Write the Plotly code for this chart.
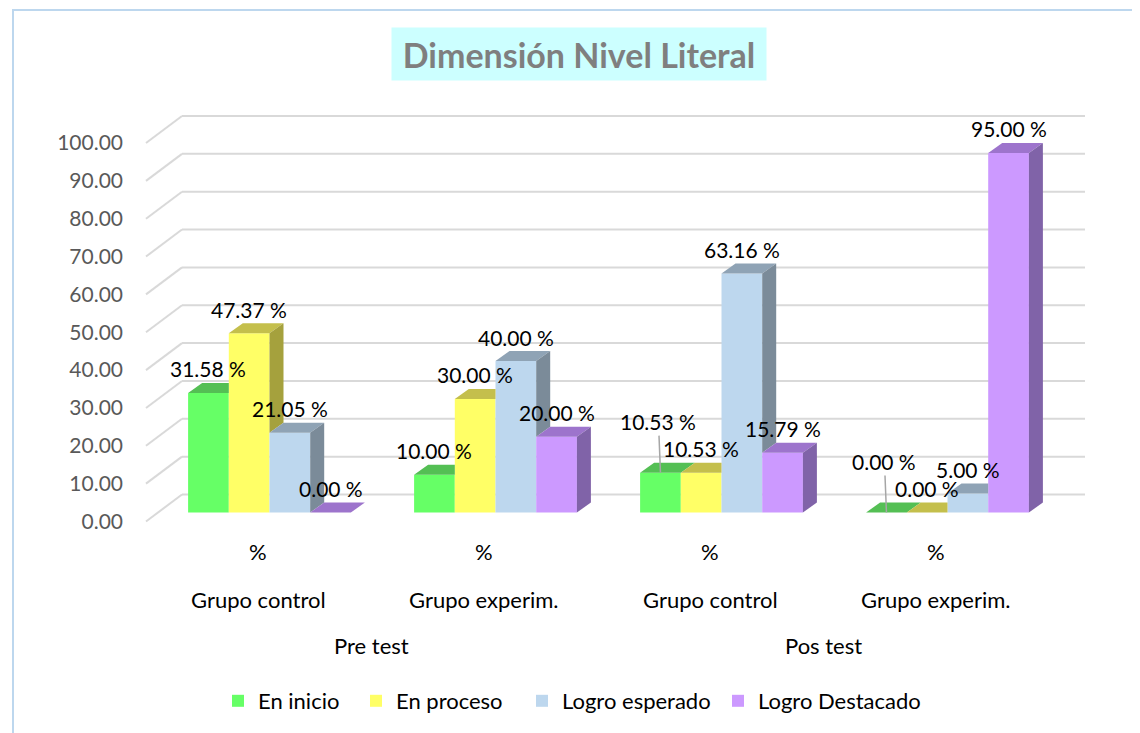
import plotly.graph_objects as go

# ---------------- data ----------------
phases = ["Pre test", "Pos test"]
groups = ["Grupo control", "Grupo experim.", "Grupo control", "Grupo experim."]
unit_labels = ["%", "%", "%", "%"]
series_names = ["En inicio", "En proceso", "Logro esperado", "Logro Destacado"]
en_inicio = [31.58, 10.00, 10.53, 0.00]
en_proceso = [47.37, 30.00, 10.53, 0.00]
logro_esperado = [21.05, 40.00, 63.16, 5.00]
logro_destacado = [0.00, 20.00, 15.79, 95.00]
y_tick_values = [0, 10, 20, 30, 40, 50, 60, 70, 80, 90, 100]
y_tick_labels = ["0.00", "10.00", "20.00", "30.00", "40.00", "50.00",
                 "60.00", "70.00", "80.00", "90.00", "100.00"]
title_text = "Dimensión Nivel Literal"

series_values = [en_inicio, en_proceso, logro_esperado, logro_destacado]

# ---------------- styles ----------------
front_colors = ["#66FF66", "#FFFF66", "#BDD7EE", "#CC99FF"]
top_colors = ["#54BF54", "#C4BF4C", "#8FA3B5", "#9D74CC"]
side_colors = ["#3F9A3F", "#A5A13D", "#7B8B99", "#8063A8"]
legend_widths = [93, 121, 151, 162]
FONT = "Lato"

OFF = 8                                  # page body margin
W, H = 1132, 725
L, R, T, B = 140 - OFF, 1100 - OFF, 100 - OFF, 540 - OFF   # plot area (figure px)
CAT0_PX = 258 - OFF
PX_PER_CAT = 226
ZERO_PX = 521.5 - OFF
PX_PER_VAL = 3.785

def paper_x(px):
    return (px - OFF - L) / (R - L)

def paper_y(py):
    return (B - (py - OFF)) / (B - T)

x_range = [(L - CAT0_PX) / PX_PER_CAT, (R - CAT0_PX) / PX_PER_CAT]
y_range = [(ZERO_PX - B) / PX_PER_VAL, (ZERO_PX - T) / PX_PER_VAL]

bar_w = 40.7 / PX_PER_CAT
group_shift = 11.5 / PX_PER_CAT
base = 9.0 / PX_PER_VAL
ddx = 14.0 / PX_PER_CAT
ddy = 10.0 / PX_PER_VAL
wall_dx = 36.0 / PX_PER_CAT
wall_dy = 27.0 / PX_PER_VAL
wall_left = (146 - OFF - CAT0_PX) / PX_PER_CAT
wall_right = (1085 - OFF - CAT0_PX) / PX_PER_CAT

n_series = len(series_values)
n_groups = len(groups)

def bar_center(i, j):
    return i + group_shift + (j - (n_series - 1) / 2) * bar_w

fig = go.Figure()

# front faces
for j, (name, vals) in enumerate(zip(series_names, series_values)):
    fig.add_trace(go.Bar(
        x=[bar_center(i, j) for i in range(n_groups)],
        y=vals,
        base=[base] * n_groups,
        width=[bar_w] * n_groups,
        name=name,
        legendwidth=legend_widths[j],
        marker=dict(color=front_colors[j], line=dict(width=0)),
        hoverinfo="skip",
    ))

# top and side faces
for i in range(n_groups):
    for j in range(n_series):
        v = series_values[j][i]
        xl = bar_center(i, j) - bar_w / 2
        xr = xl + bar_w
        vn = series_values[j + 1][i] if j < n_series - 1 else None
        if vn is not None and vn > v:
            tx = [xl, xr, xr, xl + ddx, xl]
        else:
            tx = [xl, xr, xr + ddx, xl + ddx, xl]
        ty = [base + v, base + v, base + v + ddy, base + v + ddy, base + v]
        fig.add_trace(go.Scatter(x=tx, y=ty, mode="lines", fill="toself",
                                 fillcolor=top_colors[j], line=dict(width=0),
                                 showlegend=False, hoverinfo="skip"))
        low = 0 if vn is None else vn
        if v > low:
            sx = [xr, xr + ddx, xr + ddx, xr, xr]
            sy = [base + low, base + low + ddy, base + v + ddy, base + v, base + low]
            fig.add_trace(go.Scatter(x=sx, y=sy, mode="lines", fill="toself",
                                     fillcolor=side_colors[j], line=dict(width=0),
                                     showlegend=False, hoverinfo="skip"))

# back wall gridlines
shapes = []
for v in y_tick_values:
    shapes.append(dict(type="line", xref="x", yref="y", layer="below",
                       x0=wall_left, y0=v, x1=wall_left + wall_dx, y1=v + wall_dy,
                       line=dict(color="#D9D9D9", width=2)))
    shapes.append(dict(type="line", xref="x", yref="y", layer="below",
                       x0=wall_left + wall_dx, y0=v + wall_dy, x1=wall_right, y1=v + wall_dy,
                       line=dict(color="#D9D9D9", width=2)))
# outer chart border
shapes.append(dict(type="rect", xref="paper", yref="paper", layer="below",
                   x0=paper_x(13), x1=paper_x(1200), y0=paper_y(780), y1=paper_y(10),
                   line=dict(color="#BDD7EE", width=2), fillcolor="rgba(0,0,0,0)"))

annotations = []
LABEL_FONT = dict(family=FONT, size=21, color="#000000")
leader = {(0, 2), (0, 3)}   # (series, group) labels pulled up with a leader line
for j in range(n_series):
    for i in range(n_groups):
        v = series_values[j][i]
        txt = f"{v:.2f} %"
        if (j, i) in leader:
            annotations.append(dict(x=bar_center(i, j), y=base + v, xref="x", yref="y",
                                    text=txt, showarrow=True, arrowhead=0, ax=-2, ay=-51,
                                    arrowcolor="#A6A6A6", arrowwidth=1.5, standoff=0,
                                    font=LABEL_FONT))
        else:
            annotations.append(dict(x=bar_center(i, j), y=base + v, xref="x", yref="y",
                                    text=txt, showarrow=False, yanchor="middle", yshift=24,
                                    font=LABEL_FONT))

CAT_FONT = dict(family=FONT, size=22, color="#000000")
for i in range(n_groups):
    annotations.append(dict(x=i, y=paper_y(551), xref="x", yref="paper", text=unit_labels[i],
                            showarrow=False, yanchor="middle", font=CAT_FONT))
    annotations.append(dict(x=i, y=paper_y(599), xref="x", yref="paper", text=groups[i],
                            showarrow=False, yanchor="middle", font=CAT_FONT))
for k, ph in enumerate(phases):
    annotations.append(dict(x=2 * k + 0.5, y=paper_y(645), xref="x", yref="paper", text=ph,
                            showarrow=False, yanchor="middle", font=CAT_FONT))

# title
annotations.append(dict(x=paper_x(579), y=paper_y(54), xref="paper", yref="paper",
                        text=f"<b>{title_text}</b>", showarrow=False,
                        xanchor="center", yanchor="middle",
                        width=362, height=40, borderpad=6, bgcolor="#CCFFFF",
                        font=dict(family=FONT, size=34, color="#7F7F7F")))

fig.update_layout(
    width=W, height=H,
    margin=dict(l=L, r=W - R, t=T, b=H - B, autoexpand=False),
    paper_bgcolor="#FFFFFF", plot_bgcolor="#FFFFFF",
    barmode="overlay",
    showlegend=True,
    legend=dict(orientation="h", x=paper_x(571.5), xanchor="center",
                y=paper_y(701), yanchor="middle",
                font=dict(family=FONT, size=22, color="#000000"),
                itemwidth=30,
                bgcolor="rgba(0,0,0,0)"),
    xaxis=dict(range=x_range, showgrid=False, zeroline=False, showline=False,
               showticklabels=False, ticks=""),
    yaxis=dict(range=y_range, tickvals=y_tick_values, ticktext=y_tick_labels,
               showgrid=False, zeroline=False, showline=False, ticks="",
               ticklabelstandoff=16,
               tickfont=dict(family=FONT, size=21, color="#595959")),
    shapes=shapes,
    annotations=annotations,
)

fig.write_html("out.html")
